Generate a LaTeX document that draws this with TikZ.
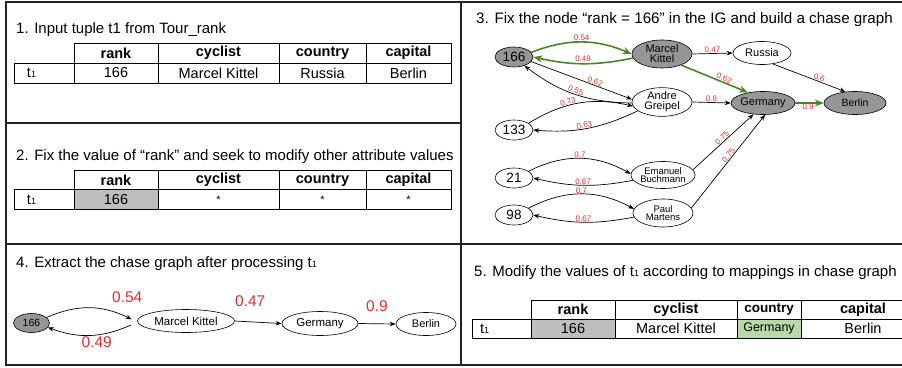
\documentclass[tikz,border=0pt]{standalone}
\usepackage{fontspec}
\setmainfont{Liberation Sans}
\usetikzlibrary{arrows.meta,shapes.geometric}
\definecolor{frm}{RGB}{35,35,35}
\definecolor{grn}{RGB}{72,135,38}
\definecolor{lbl}{RGB}{232,45,45}
\definecolor{gnode}{RGB}{150,150,150}
\definecolor{gcell}{RGB}{190,190,190}
\definecolor{gcellgreen}{RGB}{184,218,168}
\newcommand{\fs}[1]{\fontsize{#1}{#1}\selectfont}
\newcommand{\subone}{{\fs{9}1}}
\begin{document}
\begin{tikzpicture}[x=1pt,y=-1pt,
 frame/.style={draw=frm,line width=1.6pt},
 cell/.style={draw=black,line width=0.8pt,inner sep=0,font=\fs{14.5}},
 hcell/.style={cell,font=\fs{14.5}\bfseries},
 ttl/.style={anchor=west,inner sep=0,font=\fs{15}},
 ell/.style={ellipse,draw=black,line width=0.6pt,inner sep=0,align=center},
 gell/.style={ell,fill=gnode},
 arr/.style={-{Stealth[length=6pt,width=4.5pt]},line width=0.7pt},
 garr/.style={-{Stealth[length=9pt,width=7pt]},line width=1.6pt,draw=grn},
 lab/.style={font=\fs{8},text=lbl,inner sep=0.5pt},
 biglab/.style={font=\fs{15.5},text=lbl,inner sep=0pt},
]
\useasboundingbox (0,0) rectangle (902,367);
\fill[white] (0,0) rectangle (902,367);
% frame
\draw[frame] (6,2) rectangle (906,365);
\draw[frame] (461,2) -- (461,365);
\draw[frame] (6,123) -- (461,123);
\draw[frame] (6,244) -- (906,244);

% ---------- Panel 1
\node[ttl] (t1) at (16,30) {1. Input tuple t1 from Tour\_rank};
\node[hcell,minimum width=84pt,minimum height=20pt] (a1) at (116,53) {rank};
\node[hcell,minimum width=121pt,minimum height=20pt] (a2) at (218.5,53) {cyclist};
\node[hcell,minimum width=87pt,minimum height=20pt] (a3) at (322.5,53) {country};
\node[hcell,minimum width=85pt,minimum height=20pt] (a4) at (408.5,53) {capital};
\node[cell,minimum width=60pt,minimum height=20pt,text width=34pt,align=left] (b0) at (44,73) {t\subone};
\node[cell,minimum width=84pt,minimum height=20pt] (b1) at (116,73) {166};
\node[cell,minimum width=121pt,minimum height=20pt] (b2) at (218.5,73) {Marcel Kittel};
\node[cell,minimum width=87pt,minimum height=20pt] (b3) at (322.5,73) {Russia};
\node[cell,minimum width=85pt,minimum height=20pt] (b4) at (408.5,73) {Berlin};

% ---------- Panel 2
\node[ttl] (t2) at (16,157) {2. Fix the value of “rank” and seek to modify other attribute values};
\node[hcell,minimum width=84pt,minimum height=19.5pt] (c1) at (116,180) {rank};
\node[hcell,minimum width=121pt,minimum height=19.5pt] (c2) at (218.5,180) {cyclist};
\node[hcell,minimum width=87pt,minimum height=19.5pt] (c3) at (322.5,180) {country};
\node[hcell,minimum width=85pt,minimum height=19.5pt] (c4) at (408.5,180) {capital};
\node[cell,minimum width=60pt,minimum height=19.5pt,text width=34pt,align=left] (d0) at (44,199.5) {t\subone};
\node[cell,fill=gcell,minimum width=84pt,minimum height=19.5pt] (d1) at (116,199.5) {166};
\node[cell,minimum width=121pt,minimum height=19.5pt,font=\fs{11}] (d2) at (218.5,199.5) {*};
\node[cell,minimum width=87pt,minimum height=19.5pt,font=\fs{11}] (d3) at (322.5,199.5) {*};
\node[cell,minimum width=85pt,minimum height=19.5pt,font=\fs{11}] (d4) at (408.5,199.5) {*};

% ---------- Panel 3
\node[ttl,font=\fs{15.2}] (t3) at (476,20) {3. Fix the node “rank = 166” in the IG and build a chase graph};
\node[gell,minimum width=38pt,minimum height=20pt,font=\fs{13.5}] (n166) at (514,57) {166};
\node[gell,minimum width=60pt,minimum height=28pt,font=\fs{11}] (mk) at (662,54) {Marcel\\[-1pt]Kittel};
\node[ell,minimum width=58pt,minimum height=23pt,font=\fs{11}] (ru) at (762,53) {Russia};
\node[ell,minimum width=60pt,minimum height=27pt,font=\fs{11}] (ag) at (662,102) {Andre\\[-1pt]Greipel};
\node[gell,minimum width=62pt,minimum height=23pt,font=\fs{11}] (ge) at (763,103) {Germany};
\node[gell,minimum width=62pt,minimum height=23pt,font=\fs{10.5}] (be) at (855,103) {Berlin};
\node[ell,minimum width=38pt,minimum height=20pt,font=\fs{13.5}] (n133) at (514,130) {133};
\node[ell,minimum width=38pt,minimum height=20pt,font=\fs{13.5}] (n21) at (514,178) {21};
\node[ell,minimum width=60pt,minimum height=27pt,font=\fs{9.5}] (eb) at (663,175) {Emanuel\\[-1pt]Buchmann};
\node[ell,minimum width=38pt,minimum height=20pt,font=\fs{13.5}] (n98) at (514,215) {98};
\node[ell,minimum width=60pt,minimum height=28pt,font=\fs{9.5}] (pm) at (663,213) {Paul\\[-1pt]Martens};

\draw[garr] (n166.15) to[bend left=22] node[lab,midway,above] {0.54} (mk.180);
\draw[garr] (mk.188) to[bend left=12] node[lab,midway,above=1pt] {0.49} (n166.0);
\draw[arr] (n166.-15) -- node[lab,pos=0.62,sloped,above] {0.62} (ag.175);
\draw[arr] (ag.182) to[bend left=18] node[lab,pos=0.5,sloped,above] {0.55} (n166.-40);
\draw[arr] (n133.25) to[bend left=22] node[lab,pos=0.4,sloped,above] {0.73} (ag.188);
\draw[arr] (ag.200) to[bend left=15] node[lab,pos=0.52,sloped,above] {0.63} (n133.0);
\draw[arr] (n21.25) to[bend left=28] node[lab,midway,above] {0.7} (eb.178);
\draw[arr] (eb.190) to[bend left=12] node[lab,midway,above] {0.67} (n21.0);
\draw[arr] (n98.25) to[bend left=28] node[lab,midway,above] {0.7} (pm.172);
\draw[arr] (pm.188) to[bend left=12] node[lab,midway,above] {0.67} (n98.0);
\draw[arr] (mk.east) -- node[lab,midway,above] {0.47} (ru.west);
\draw[garr] (mk.-30) -- node[lab,pos=0.62,sloped,above] {0.62} (ge.145);
\draw[arr] (ru.-45) -- node[lab,pos=0.62,sloped,above] {0.6} (be.130);
\draw[arr] (ag.east) -- node[lab,midway,above] {0.8} (ge.west);
\draw[garr] (ge.east) -- node[lab,pos=0.45,below] {0.9} (be.west);
\draw[arr] (eb.10) -- node[lab,pos=0.52,sloped,above] {0.75} (ge.-130);
\draw[arr] (pm.10) -- node[lab,pos=0.54,sloped,above] {0.75} (ge.-80);

% ---------- Panel 4
\node[ttl] (t4) at (16,264) {4. Extract the chase graph after processing t\subone};
\node[gell,minimum width=36pt,minimum height=19pt,font=\fs{10.5}] (p166) at (31.5,323) {166};
\node[ell,minimum width=97pt,minimum height=23pt,font=\fs{11.5}] (pmk) at (186,321) {Marcel Kittel};
\node[ell,minimum width=76pt,minimum height=24pt,font=\fs{11.5}] (pge) at (320,323.5) {Germany};
\node[ell,minimum width=60pt,minimum height=23pt,font=\fs{11}] (pbe) at (426,324) {Berlin};
\draw[arr] (p166.20) to[bend left=25] node[biglab,pos=0.95,above=14pt] {0.54} ([xshift=-6pt]pmk.178);
\draw[arr] ([xshift=-9pt]pmk.185) to[bend left=22] node[biglab,midway,below=1pt,xshift=7pt] {0.49} (p166.-15);
\draw[arr] (pmk.east) -- node[biglab,midway,above=15pt,xshift=-8pt] {0.47} (pge.west);
\draw[arr] (pge.east) -- node[biglab,midway,above=12pt] {0.9} (pbe.west);

% ---------- Panel 5
\node[ttl] (t5) at (474,273) {5. Modify the values of t\subone{} according to mappings in chase graph};
\node[hcell,minimum width=84pt,minimum height=19pt] (e1) at (573,309.5) {rank};
\node[hcell,minimum width=122pt,minimum height=19pt] (e2) at (676,309.5) {cyclist};
\node[hcell,minimum width=64pt,minimum height=19pt,font=\fs{13.5}\bfseries] (e3) at (769,309.5) {country};
\node[hcell,minimum width=124pt,minimum height=19pt] (e4) at (863,309.5) {capital};
\node[cell,minimum width=59pt,minimum height=19pt,text width=43pt,align=left] (f0) at (501.5,328.5) {t\subone};
\node[cell,fill=gcell,minimum width=84pt,minimum height=19pt] (f1) at (573,328.5) {166};
\node[cell,minimum width=122pt,minimum height=19pt] (f2) at (676,328.5) {Marcel Kittel};
\node[cell,fill=gcellgreen,minimum width=64pt,minimum height=19pt,font=\fs{12.5}] (f3) at (769,328.5) {Germany};
\node[cell,minimum width=124pt,minimum height=19pt] (f4) at (863,328.5) {Berlin};
\end{tikzpicture}
\end{document}
